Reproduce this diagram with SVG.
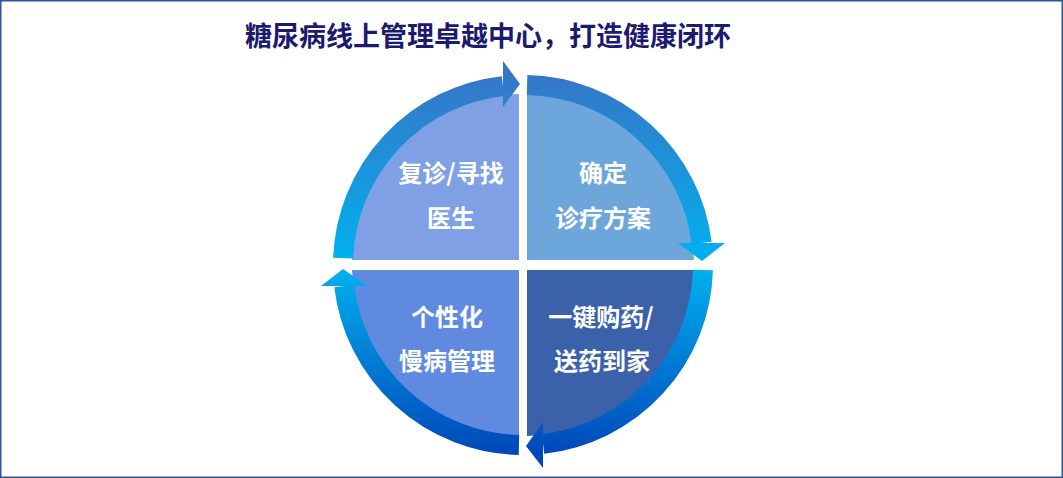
<svg xmlns="http://www.w3.org/2000/svg" width="1063" height="478" viewBox="0 0 1063 478">
<style>
.q{stroke:none}
.lbl{font-family:"Noto Sans CJK SC","Noto Sans",sans-serif;font-weight:bold;font-size:24px;fill:#FFFFFF;text-anchor:middle}
.title{font-family:"Noto Sans CJK SC","Noto Sans",sans-serif;font-weight:bold;font-size:27px;fill:#1C1A6E}
.ring{fill:none;stroke:url(#rg);stroke-width:20}
.head{fill:url(#rg)}
</style>
<defs>
<linearGradient id="rg" gradientUnits="userSpaceOnUse" x1="0" y1="60" x2="0" y2="470">
<stop offset="0" stop-color="#3A72C4"/>
<stop offset="0.5" stop-color="#00B2F0"/>
<stop offset="1" stop-color="#003FB5"/>
</linearGradient>
</defs>
<rect x="0.75" y="0.75" width="1061.5" height="476.5" fill="#FFFFFF" stroke="#2F5597" stroke-width="1.5"/>
<text class="title" x="488" y="46" text-anchor="middle">糖尿病线上管理卓越中心，打造健康闭环</text>
<g id="node-tl">
<path class="q" fill="#7FA0E5" d="M519,260 L519,94.05 A171,171 0 0 0 352.07,260 Z"/>
<text class="lbl" x="451" y="182">复诊/寻找</text>
<text class="lbl" x="451" y="227">医生</text>
</g>
<g id="node-tr">
<path class="q" fill="#6DA6DA" d="M527,260 L527,94.05 A171,171 0 0 1 693.93,260 Z"/>
<text class="lbl" x="603" y="182">确定</text>
<text class="lbl" x="603" y="227">诊疗方案</text>
</g>
<g id="node-br">
<path class="q" fill="#3C61AB" d="M527,270 L693.93,270 A171,171 0 0 1 527,435.95 Z"/>
<text class="lbl" x="601" y="326">一键购药/</text>
<text class="lbl" x="602" y="370">送药到家</text>
</g>
<g id="node-bl">
<path class="q" fill="#5F8ADF" d="M519,270 L519,435.95 A171,171 0 0 1 352.07,270 Z"/>
<text class="lbl" x="447" y="326">个性化</text>
<text class="lbl" x="447" y="370">慢病管理</text>
</g>
<g id="connectors">
<path class="ring" d="M343.13,258.09 A180,180 0 0 1 502.93,86.12"/>
<polygon class="head" points="503,61 520,84 503,107"/>
<path class="ring" d="M527.08,85.05 A180,180 0 0 1 701.66,243.06"/>
<polygon class="head" points="678,243 725,243 702,261"/>
<path class="ring" d="M702.93,270.03 A180,180 0 0 1 543.06,443.88"/>
<polygon class="head" points="543,422 543,468 526,446"/>
<path class="ring" d="M518.92,444.95 A180,180 0 0 1 344.23,286"/>
<polygon class="head" points="321,286 368,286 343,269"/>
</g>
</svg>
